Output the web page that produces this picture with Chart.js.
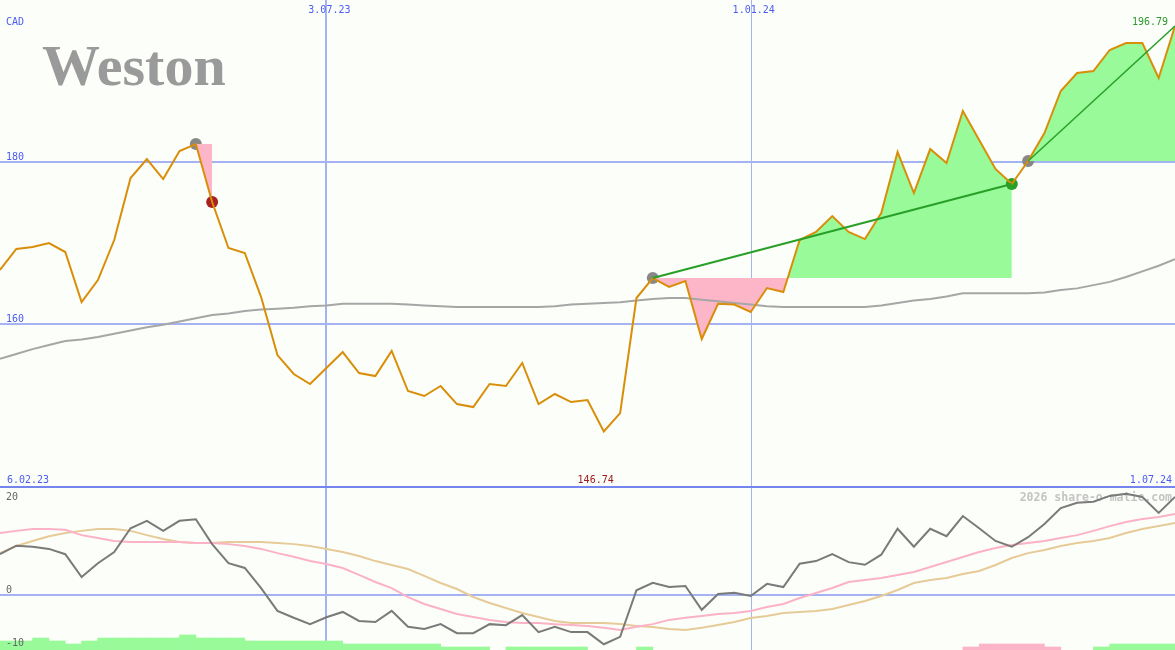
<!DOCTYPE html>
<html>
<head>
<meta charset="utf-8">
<script src="https://cdn.jsdelivr.net/npm/chart.js@4.4.1/dist/chart.umd.min.js"></script>
<style>
html, body { margin: 0; padding: 0; background: #fcfefa; }
#wrap { width: 1175px; height: 650px; }
</style>
</head>
<body>
<div id="wrap"><canvas id="chart" width="1175" height="650"></canvas></div>
<script>
// weekly closes (CAD), index 0 = 6.02.23
const closes = [166.67, 169.26, 169.51, 170.0, 168.89, 162.72, 165.43, 170.37, 178.02, 180.37,
  177.9, 181.36, 182.22, 175.06, 169.38, 168.77, 163.33, 156.17, 153.83, 152.59,
  154.57, 156.54, 153.95, 153.58, 156.67, 151.73, 151.11, 152.35, 150.12, 149.75,
  152.59, 152.35, 155.19, 150.12, 151.36, 150.37, 150.62, 146.74, 149.01, 163.21,
  165.68, 164.57, 165.31, 158.15, 162.5, 162.4, 161.48, 164.44, 163.95, 170.37,
  171.36, 173.33, 171.36, 170.49, 173.7, 181.23, 176.17, 181.6, 179.88, 186.3,
  182.72, 179.14, 177.28, 180.12, 183.58, 188.77, 190.99, 191.23, 193.83, 194.69,
  194.69, 190.37, 196.79];

// long moving average (grey)
const avgLine = [155.7, 156.3, 156.9, 157.4, 157.9, 158.1, 158.4, 158.8, 159.2, 159.6,
  159.9, 160.3, 160.7, 161.1, 161.3, 161.6, 161.8, 161.9, 162.0, 162.2,
  162.3, 162.5, 162.5, 162.5, 162.5, 162.4, 162.3, 162.2, 162.1, 162.1,
  162.1, 162.1, 162.1, 162.1, 162.2, 162.4, 162.5, 162.6, 162.7, 162.9,
  163.1, 163.2, 163.2, 163.0, 162.8, 162.6, 162.4, 162.2, 162.1, 162.1,
  162.1, 162.1, 162.1, 162.1, 162.3, 162.6, 162.9, 163.1, 163.4, 163.8,
  163.8, 163.8, 163.8, 163.8, 163.9, 164.2, 164.4, 164.8, 165.2, 165.8,
  166.5, 167.2, 168.0];

// lower panel: oscillator and its two averages
const oscMain = [7.7, 9.3, 9.1, 8.7, 7.7, 3.4, 6.0, 8.1, 12.6, 14.0,
  12.1, 14.0, 14.3, 9.6, 6.0, 5.1, 1.3, -3.0, -4.3, -5.5,
  -4.2, -3.2, -4.9, -5.1, -3.0, -6.0, -6.4, -5.5, -7.2, -7.2,
  -5.5, -5.7, -3.8, -7.0, -6.0, -7.0, -7.0, -9.3, -7.9, 0.9,
  2.3, 1.5, 1.7, -2.8, 0.2, 0.4, -0.2, 2.1, 1.5, 5.9,
  6.4, 7.7, 6.2, 5.7, 7.6, 12.5, 9.1, 12.5, 11.1, 14.9,
  12.6, 10.2, 9.1, 10.9, 13.4, 16.4, 17.4, 17.6, 18.7, 19.1,
  18.5, 15.5, 18.5];
const oscFast = [11.7, 12.1, 12.45, 12.45, 12.3, 11.3, 10.75, 10.2, 10.0, 10.0,
  10.0, 10.0, 9.8, 9.8, 9.6, 9.25, 8.7, 7.9, 7.2, 6.4,
  5.85, 5.1, 3.8, 2.45, 1.3, -0.4, -1.7, -2.64, -3.6, -4.15,
  -4.7, -5.1, -5.28, -5.28, -5.5, -5.66, -5.85, -6.2, -6.6, -6.0,
  -5.5, -4.7, -4.3, -3.96, -3.6, -3.4, -3.0, -2.26, -1.7, -0.57,
  0.38, 1.32, 2.45, 2.83, 3.2, 3.77, 4.34, 5.28, 6.23, 7.17,
  8.1, 8.87, 9.43, 9.8, 10.2, 10.75, 11.3, 12.1, 13.0, 13.77,
  14.34, 14.7, 15.3];
const oscSlow = [7.9, 9.25, 10.2, 11.1, 11.7, 12.1, 12.45, 12.45, 12.1, 11.3,
  10.55, 10.0, 9.8, 9.8, 10.0, 10.0, 10.0, 9.8, 9.6, 9.25,
  8.7, 8.1, 7.36, 6.4, 5.66, 4.9, 3.6, 2.26, 1.13, -0.38,
  -1.5, -2.45, -3.4, -4.15, -4.9, -5.28, -5.28, -5.28, -5.47, -5.85,
  -6.04, -6.4, -6.6, -6.2, -5.66, -5.1, -4.34, -3.96, -3.4, -3.2,
  -3.0, -2.64, -1.9, -1.13, -0.19, 0.94, 2.26, 2.83, 3.2, 3.96,
  4.53, 5.66, 6.98, 7.9, 8.49, 9.25, 9.8, 10.2, 10.75, 11.7,
  12.45, 13.0, 13.6];

// signal strength per week (+ green, - pink), null = none
const signalBars = [3, 3, 4, 3, 2, 3, 4, 4, 4, 4,
  4, 5, 4, 4, 4, 3, 3, 3, 3, 3,
  3, 2, 2, 2, 2, 2, 2, 1, 1, 1,
  null, 1, 1, 1, 1, 1, null, null, null, 1,
  null, null, null, null, null, null, null, null, null, null,
  null, null, null, null, null, null, null, null, null, -1,
  -2, -2, -2, -2, -1, null, null, 1, 2, 2,
  2, 2];

// trades: entry week, exit week, outcome
const tradeStart = [12, 40, 63];
const tradeEnd = [13, 62, 72];
const tradeResult = ['loss', 'gain', 'open'];

const gridWeeks = [20, 46];
const gridLabels = ['3.07.23', '1.01.24'];
const firstDate = '6.02.23';
const lastDate = '1.07.24';
const priceTicks = [160, 180];
const oscTicks = [20, 0, -10];

const pts = arr => arr.map((v, i) => ({ x: i, y: v }));

const datasets = [];
datasets.push({
  label: 'close', data: pts(closes), yAxisID: 'y',
  borderColor: '#d98e0a', borderWidth: 2, order: 3
});
datasets.push({
  label: 'avg', data: pts(avgLine), yAxisID: 'y',
  borderColor: '#a6a6a6', borderWidth: 2, order: 12
});

// shaded areas between entry level and price
tradeStart.forEach((s, k) => {
  const lvl = closes[s];
  datasets.push({
    label: 'zone' + k, yAxisID: 'y',
    data: [{ x: s, y: lvl }, { x: tradeEnd[k], y: lvl }],
    borderWidth: 0, borderColor: 'rgba(0,0,0,0)',
    fill: { target: 0, above: '#fdb6c8', below: '#98fa98' },
    order: 15
  });
  if (tradeResult[k] !== 'loss') {
    datasets.push({
      label: 'trend' + k, yAxisID: 'y',
      data: [{ x: s, y: lvl }, { x: tradeEnd[k], y: closes[tradeEnd[k]] }],
      borderColor: '#28a028', borderWidth: k === 1 ? 2 : 1.5, order: 2
    });
  }
});

// entry dots sit under the shading, exit dots above it
const entryPts = tradeStart.map(s => ({ x: s, y: closes[s] }));
const exitPts = [], exitCols = [];
tradeEnd.forEach((e, k) => {
  if (tradeResult[k] === 'open') return;
  exitPts.push({ x: e, y: closes[e] });
  exitCols.push(tradeResult[k] === 'loss' ? '#a82222' : '#26a026');
});
datasets.push({
  label: 'entries', data: entryPts, yAxisID: 'y', showLine: false,
  pointRadius: 6, pointBackgroundColor: '#888888', pointBorderWidth: 0, order: 16
});
datasets.push({
  label: 'exits', data: exitPts, yAxisID: 'y', showLine: false,
  pointRadius: 6, pointBackgroundColor: exitCols, pointBorderWidth: 0, order: 5
});

datasets.push({ label: 'osc', data: pts(oscMain), yAxisID: 'y2', borderColor: '#7a7a7a', borderWidth: 2, order: 9 });
datasets.push({ label: 'fast', data: pts(oscFast), yAxisID: 'y2', borderColor: '#fbb2c6', borderWidth: 2, order: 10 });
datasets.push({ label: 'slow', data: pts(oscSlow), yAxisID: 'y2', borderColor: '#e6cb98', borderWidth: 2, order: 11 });

const barPts = [], barCols = [];
signalBars.forEach((v, i) => {
  if (v === null) return;
  barPts.push({ x: i + 0.5, y: Math.abs(v) });
  barCols.push(v > 0 ? '#98fa98' : '#fcb4c8');
});
datasets.push({
  type: 'bar', label: 'signal', data: barPts, yAxisID: 'yb',
  backgroundColor: barCols, borderWidth: 0,
  barPercentage: 1, categoryPercentage: 1, order: 20
});

const TEXT_BLUE = '#4d5cf0';
const MONO = '"DejaVu Sans Mono", monospace';

const panelDecor = {
  id: 'panelDecor',
  beforeDraw(chart) {
    const { ctx, width, height } = chart;
    ctx.save();
    ctx.fillStyle = '#fcfefa';
    ctx.fillRect(0, 0, width, height);
    ctx.restore();
  },
  beforeDatasetsDraw(chart) {
    const { ctx, chartArea: a, scales: { x, y, y2 } } = chart;
    const line = (x1, y1, x2, y2_) => { ctx.beginPath(); ctx.moveTo(x1, y1); ctx.lineTo(x2, y2_); ctx.stroke(); };
    ctx.save();
    // logo
    ctx.fillStyle = '#9a9a9a';
    ctx.font = 'bold 58px "Liberation Serif", serif';
    ctx.textBaseline = 'alphabetic';
    ctx.fillText('Weston', 42, 85);

    ctx.strokeStyle = '#a5b3f3';
    ctx.lineWidth = 2;
    priceTicks.forEach(v => { const py = Math.round(y.getPixelForValue(v)); line(a.left, py, a.right, py); });
    const z = Math.round(y2.getPixelForValue(0));
    line(a.left, z, a.right, z);
    gridWeeks.forEach((w, k) => {
      ctx.lineWidth = k === 0 ? 2 : 1;
      const px = Math.round(x.getPixelForValue(w)) + (k === 0 ? 0 : 0.5);
      line(px, a.top, px, a.bottom);
    });
    // panel separator
    ctx.strokeStyle = '#7684ee';
    ctx.lineWidth = 2;
    line(a.left, Math.round(y.bottom), a.right, Math.round(y.bottom));

    // watermark
    ctx.fillStyle = '#c4c4c4';
    ctx.font = 'bold 11.5px ' + MONO;
    ctx.textAlign = 'right';
    ctx.fillText('2026 share-o-matic.com', a.right - 3, y2.top + 14);
    ctx.restore();
  },
  afterDatasetsDraw(chart) {
    const { ctx, chartArea: a, scales: { x, y, y2 } } = chart;
    ctx.save();
    ctx.font = '10px ' + MONO;
    ctx.textBaseline = 'alphabetic';
    ctx.fillStyle = TEXT_BLUE;
    ctx.textAlign = 'left';
    ctx.fillText('CAD', 6, 25);
    priceTicks.forEach(v => ctx.fillText(String(v), 6, Math.round(y.getPixelForValue(v)) - 2));
    ctx.fillText(firstDate, 7, y.bottom - 4);
    ctx.textAlign = 'center';
    gridWeeks.forEach((w, k) => ctx.fillText(gridLabels[k], x.getPixelForValue(w) + 3, 13));
    ctx.textAlign = 'right';
    ctx.fillText(lastDate, a.right - 3, y.bottom - 4);

    // min and last price
    const minV = Math.min(...closes);
    const minI = closes.indexOf(minV);
    ctx.fillStyle = '#a01c1c';
    ctx.textAlign = 'center';
    ctx.fillText(minV.toFixed(2), x.getPixelForValue(minI - 0.5), y.bottom - 4);
    ctx.fillStyle = '#2a982a';
    ctx.textAlign = 'right';
    ctx.fillText(closes[closes.length - 1].toFixed(2), a.right - 7, 25);

    // lower panel ticks
    ctx.fillStyle = '#666666';
    ctx.textAlign = 'left';
    oscTicks.forEach(v => {
      const py = Math.max(Math.round(y2.getPixelForValue(v)) - 2, y2.top + 13);
      ctx.fillText(String(v), 6, py);
    });
    ctx.restore();
  }
};

new Chart(document.getElementById('chart'), {
  type: 'line',
  data: { datasets },
  options: {
    responsive: false,
    animation: false,
    events: [],
    layout: { padding: 0, autoPadding: false },
    elements: { point: { radius: 0 }, line: { tension: 0 } },
    plugins: { legend: { display: false }, tooltip: { enabled: false } },
    scales: {
      x: { type: 'linear', min: 0, max: closes.length - 1, offset: false, display: false },
      y: { type: 'linear', min: 139.88, max: 200, display: false, stack: 'panels', stackWeight: 487, weight: 1 },
      y2: { type: 'linear', min: -10.38, max: 20.38, display: false, stack: 'panels', stackWeight: 163, weight: 0 },
      yb: { type: 'linear', min: 0, max: 216.67, display: false }
    }
  },
  plugins: [panelDecor]
});
</script>
</body>
</html>
